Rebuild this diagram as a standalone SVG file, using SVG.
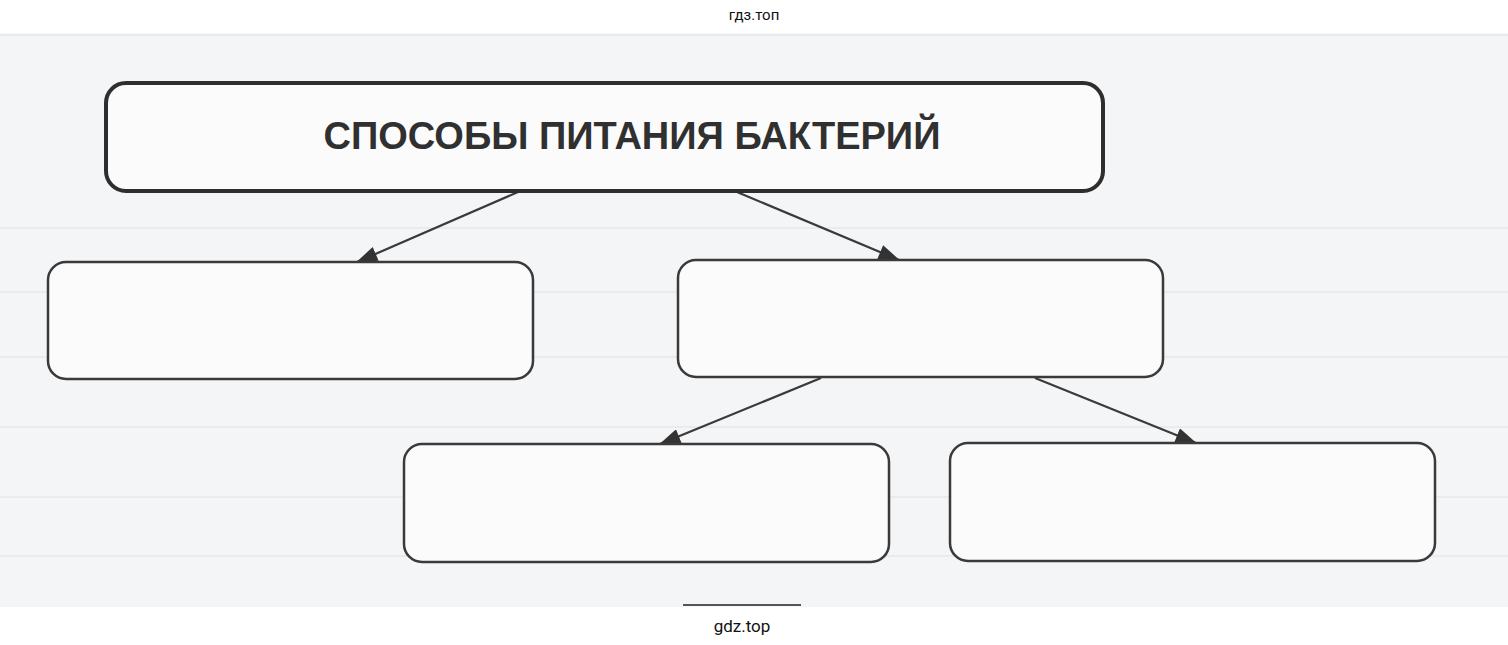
<svg xmlns="http://www.w3.org/2000/svg" width="1508" height="645" viewBox="0 0 1508 645">
<defs>
<style>
.box{fill:#fbfbfc;stroke:#3a3a3a;stroke-width:2.5}
.title{fill:#fbfbfc;stroke:#2e2e2e;stroke-width:4}
.conn{stroke:#3a3a3a;stroke-width:2.2;fill:none}
.rule{stroke:#e6e8eb;stroke-width:1.5}
.wm{font-family:Roboto,"Liberation Sans",sans-serif;fill:#111}
</style>
<marker id="ah" viewBox="0 0 20 14" refX="19" refY="7" markerWidth="22" markerHeight="15" markerUnits="userSpaceOnUse" orient="auto">
<path d="M0,0 L20,7 L0,14 Z" fill="#333"/>
</marker>
</defs>
<rect x="0" y="0" width="1508" height="645" fill="#ffffff"/>
<rect x="0" y="33" width="1508" height="574" fill="#f4f5f7"/>
<g id="scan-rules">
<line class="rule" x1="0" y1="35" x2="1508" y2="35"/>
<line class="rule" x1="0" y1="228" x2="1508" y2="228"/>
<line class="rule" x1="0" y1="292" x2="1508" y2="292"/>
<line class="rule" x1="0" y1="357" x2="1508" y2="357"/>
<line class="rule" x1="0" y1="427" x2="1508" y2="427"/>
<line class="rule" x1="0" y1="497" x2="1508" y2="497"/>
<line class="rule" x1="0" y1="556" x2="1508" y2="556"/>
<line x1="683" y1="605" x2="801" y2="605" stroke="#555" stroke-width="2"/>
</g>
<text class="wm" x="754" y="20" font-size="15" text-anchor="middle">гдз.топ</text>
<text class="wm" x="742" y="632" font-size="17" text-anchor="middle">gdz.top</text>
<g id="connectors">
<line class="conn" x1="518" y1="192" x2="357" y2="262" marker-end="url(#ah)"/>
<line class="conn" x1="737" y1="192" x2="899" y2="260" marker-end="url(#ah)"/>
<line class="conn" x1="821" y1="378" x2="660" y2="444" marker-end="url(#ah)"/>
<line class="conn" x1="1035" y1="378" x2="1196" y2="443" marker-end="url(#ah)"/>
</g>
<g id="node-title">
<rect class="title" x="106" y="83" width="997" height="108" rx="20"/>
<text x="632" y="149" font-family="'Liberation Sans',Arial,sans-serif" font-weight="bold" font-size="38" text-anchor="middle" fill="#303030">СПОСОБЫ ПИТАНИЯ БАКТЕРИЙ</text>
</g>
<g id="node-1"><rect class="box" x="48" y="262" width="485" height="117" rx="18"/></g>
<g id="node-2"><rect class="box" x="678" y="260" width="485" height="117" rx="18"/></g>
<g id="node-3"><rect class="box" x="404" y="444" width="485" height="118" rx="18"/></g>
<g id="node-4"><rect class="box" x="950" y="443" width="485" height="118" rx="18"/></g>
</svg>
